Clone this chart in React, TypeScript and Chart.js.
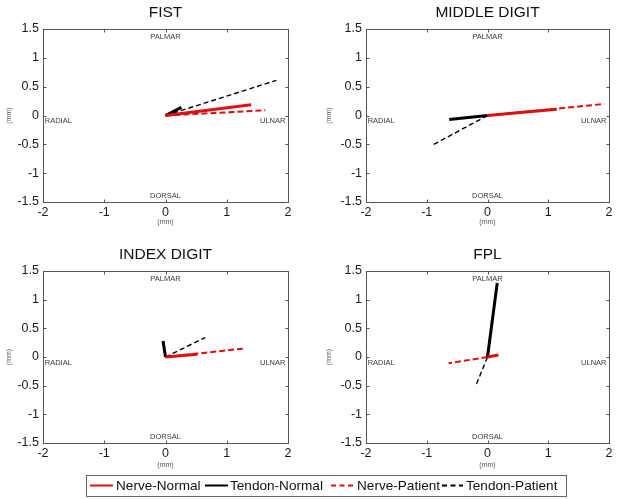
import React, { useEffect, useRef } from 'react';
import { Chart, registerables } from 'chart.js';
Chart.register(...registerables);

const FONT = 'Arial, "Liberation Sans", sans-serif';

const panelTitles = ['FIST', 'MIDDLE DIGIT', 'INDEX DIGIT', 'FPL'];
const seriesNames = ['Nerve-Normal', 'Tendon-Normal', 'Nerve-Patient', 'Tendon-Patient'];

// End points of each vector (all start at the origin), one entry per panel
const nerveNormalX = [1.4, 1.14, 0.52, 0.18];
const nerveNormalY = [0.185, 0.11, 0.05, 0.035];
const tendonNormalX = [0.26, -0.63, -0.04, 0.16];
const tendonNormalY = [0.14, -0.07, 0.28, 1.29];
const nervePatientX = [1.63, 1.92, 1.26, -0.64];
const nervePatientY = [0.09, 0.2, 0.145, -0.11];
const tendonPatientX = [1.81, -0.9, 0.65, -0.2];
const tendonPatientY = [0.61, -0.51, 0.34, -0.52];

const xTicks = [-2, -1, 0, 1, 2];
const yTicks = [-1.5, -1, -0.5, 0, 0.5, 1, 1.5];

const directionLabels = ['PALMAR', 'DORSAL', 'RADIAL', 'ULNAR'];
const directionX = [0, 0, -1.75, 1.75];
const directionY = [1.37, -1.39, -0.1, -0.1];

const RED = 'rgb(222,16,16)';

const seriesX = [nerveNormalX, tendonNormalX, nervePatientX, tendonPatientX];
const seriesY = [nerveNormalY, tendonNormalY, nervePatientY, tendonPatientY];
const seriesColor = [RED, '#000000', RED, '#000000'];
const seriesWidth = [3, 3, 2, 1.4];
const seriesDash: number[][] = [[], [], [6, 3], [5, 3]];

type Layout = {
  left: number; top: number; w: number; h: number;
  aL: number; aT: number; aR: number; aB: number;
  titleY: number; xLabelY: number; yLabelX: number;
};

const layouts: Layout[] = [
  { left: 0, top: 0, w: 309, h: 234, aL: 43, aT: 29, aR: 288, aB: 202, titleY: 13, xLabelY: 222, yLabelX: 9 },
  { left: 309, top: 0, w: 309, h: 234, aL: 57, aT: 29, aR: 300, aB: 202, titleY: 13, xLabelY: 222, yLabelX: 20 },
  { left: 0, top: 236, w: 309, h: 234, aL: 43, aT: 35, aR: 288, aB: 207, titleY: 19, xLabelY: 229, yLabelX: 9 },
  { left: 309, top: 236, w: 309, h: 234, aL: 57, aT: 35, aR: 300, aB: 207, titleY: 19, xLabelY: 229, yLabelX: 20 },
];

const framePlugin = {
  id: 'frame',
  afterDraw(chart: any, _args: any, opts: any) {
    const { ctx, chartArea: a, scales } = chart;
    const xs = scales.x;
    const ys = scales.y;
    ctx.save();
    ctx.strokeStyle = '#555';
    ctx.lineWidth = 1;
    const L = Math.round(a.left) + 0.5;
    const T = Math.round(a.top) + 0.5;
    const R = Math.round(a.right) + 0.5;
    const B = Math.round(a.bottom) + 0.5;
    ctx.strokeRect(L, T, R - L, B - T);
    ctx.beginPath();
    for (const v of xTicks) {
      const px = Math.round(xs.getPixelForValue(v)) + 0.5;
      ctx.moveTo(px, B); ctx.lineTo(px, B - 3);
      ctx.moveTo(px, T); ctx.lineTo(px, T + 3);
    }
    for (const v of yTicks) {
      const py = Math.round(ys.getPixelForValue(v)) + 0.5;
      ctx.moveTo(L, py); ctx.lineTo(L + 3, py);
      ctx.moveTo(R, py); ctx.lineTo(R - 3, py);
    }
    ctx.stroke();

    ctx.textAlign = 'center';
    ctx.textBaseline = 'middle';
    ctx.fillStyle = '#3a3a3a';
    ctx.font = `7.5px ${FONT}`;
    directionLabels.forEach((t, i) => {
      ctx.fillText(t, xs.getPixelForValue(directionX[i]), ys.getPixelForValue(directionY[i]));
    });

    ctx.fillStyle = '#111';
    ctx.font = `15.5px ${FONT}`;
    ctx.fillText(opts.title, (a.left + a.right) / 2, opts.titleY);

    ctx.fillStyle = '#555';
    ctx.font = `7px ${FONT}`;
    ctx.fillText('(mm)', (a.left + a.right) / 2, opts.xLabelY);
    ctx.translate(opts.yLabelX, (a.top + a.bottom) / 2);
    ctx.rotate(-Math.PI / 2);
    ctx.fillText('(mm)', 0, 0);
    ctx.restore();
  },
};

function Panel({ index }: { index: number }) {
  const ref = useRef<HTMLCanvasElement>(null);
  const lay = layouts[index];
  useEffect(() => {
    if (!ref.current) return;
    const datasets = seriesNames.map((name, s) => ({
      label: name,
      data: [{ x: 0, y: 0 }, { x: seriesX[s][index], y: seriesY[s][index] }],
      borderColor: seriesColor[s],
      borderWidth: seriesWidth[s],
      borderDash: seriesDash[s],
      borderCapStyle: 'butt' as const,
      pointRadius: 0,
      fill: false,
      tension: 0,
      order: s,
    }));
    const tickFont = { size: 12.5, family: FONT };
    const chart = new Chart(ref.current, {
      type: 'line',
      data: { datasets },
      plugins: [framePlugin],
      options: {
        animation: false,
        responsive: false,
        devicePixelRatio: 1,
        layout: { padding: { top: lay.aT, right: lay.w - lay.aR, left: 0, bottom: 0 } },
        plugins: {
          legend: { display: false },
          tooltip: { enabled: false },
          title: { display: false },
          frame: { title: panelTitles[index], titleY: lay.titleY, xLabelY: lay.xLabelY, yLabelX: lay.yLabelX },
        } as any,
        scales: {
          x: {
            type: 'linear',
            min: -2,
            max: 2,
            afterFit: (s: any) => { s.height = lay.h - lay.aB; },
            afterBuildTicks: (s: any) => { s.ticks = xTicks.map((v) => ({ value: v })); },
            grid: { display: false, drawTicks: false },
            border: { display: false },
            ticks: { padding: 3, font: tickFont, color: '#1a1a1a', maxRotation: 0, autoSkip: false, callback: (v: any) => String(v) },
          },
          y: {
            type: 'linear',
            min: -1.5,
            max: 1.5,
            afterFit: (s: any) => { s.width = lay.aL; },
            afterBuildTicks: (s: any) => { s.ticks = yTicks.map((v) => ({ value: v })); },
            grid: { display: false, drawTicks: false },
            border: { display: false },
            ticks: { padding: 4, font: tickFont, color: '#1a1a1a', autoSkip: false, callback: (v: any) => String(v) },
          },
        },
      } as any,
    });
    return () => chart.destroy();
  }, [index]);
  return (
    <canvas
      ref={ref}
      width={lay.w}
      height={lay.h}
      style={{ position: 'absolute', left: lay.left, top: lay.top, width: lay.w, height: lay.h }}
    />
  );
}

const legendItems = [
  { lineL: 90, lineR: 113, textL: 116 },
  { lineL: 205, lineR: 228, textL: 230 },
  { lineL: 331, lineR: 355, textL: 357 },
  { lineL: 442, lineR: 463, textL: 466 },
];

function Legend() {
  const cy = 485.5;
  return (
    <>
      <div
        style={{
          position: 'absolute', left: 86, top: 475, width: 479, height: 20,
          border: '1px solid #666', background: '#fff', boxSizing: 'content-box',
        }}
      />
      <svg width={618} height={499} style={{ position: 'absolute', left: 0, top: 0, pointerEvents: 'none' }}>
        {legendItems.map((it, i) => (
          <line
            key={i}
            x1={it.lineL}
            x2={it.lineR}
            y1={cy}
            y2={cy}
            stroke={seriesColor[i]}
            strokeWidth={2}
            strokeDasharray={seriesDash[i].length ? '5 3.5' : undefined}
          />
        ))}
      </svg>
      {legendItems.map((it, i) => (
        <span
          key={i}
          style={{
            position: 'absolute', left: it.textL, top: cy - 8, lineHeight: '16px', height: 16,
            fontFamily: FONT, fontSize: 13.6, color: '#111', whiteSpace: 'nowrap',
          }}
        >
          {seriesNames[i]}
        </span>
      ))}
    </>
  );
}

export default function App() {
  return (
    <div style={{ position: 'fixed', left: 0, top: 0, width: 618, height: 499, background: '#fff', overflow: 'hidden' }}>
      {panelTitles.map((_, i) => (
        <Panel key={i} index={i} />
      ))}
      <Legend />
    </div>
  );
}
